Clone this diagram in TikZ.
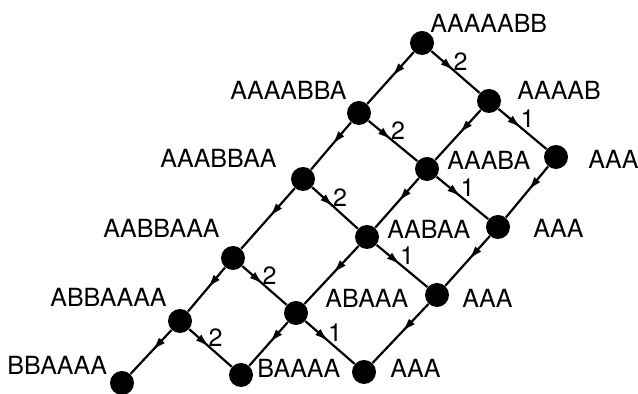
\documentclass[tikz,border=0pt]{standalone}
\usepackage{fontspec}
\setmainfont{TeX Gyre Heros}
\usetikzlibrary{arrows.meta,decorations.markings}
\begin{document}
\begin{tikzpicture}[x=0.5pt,y=-0.5pt,
  st/.style={circle,fill=black,minimum size=12pt,inner sep=0pt},
  lab/.style={anchor=base west,inner sep=0pt,font=\fontsize{12.5pt}{14pt}\selectfont},
  conn/.style={line width=1.1pt,postaction={decorate},
    decoration={markings,mark=at position 0.47 with {\arrow{Latex[length=7pt,width=4pt]}}}},
  num/.style={midway,xshift=2.5pt,yshift=5pt,inner sep=0pt,font=\fontsize{12.5pt}{14pt}\selectfont}]
\path[use as bounding box] (0,0) rectangle (638,394);
% left chain
\node[st] (L0) at (422,43) {};
\node[st] (L1) at (359,113) {};
\node[st] (L2) at (303,179) {};
\node[st] (L3) at (233,258) {};
\node[st] (L4) at (180,321) {};
\node[st] (L5) at (122,383) {};
% middle chain
\node[st] (M0) at (489,101) {};
\node[st] (M1) at (427,169) {};
\node[st] (M2) at (367,237) {};
\node[st] (M3) at (296,313) {};
\node[st] (M4) at (241,375) {};
% right chain
\node[st] (R0) at (556,157) {};
\node[st] (R1) at (498,227) {};
\node[st] (R2) at (437,295) {};
\node[st] (R3) at (364,372) {};
% labels
\node[lab] (tL0) at (430,33) {AAAAABB};
\node[lab] (tL1) at (230,100) {AAAABBA};
\node[lab] (tL2) at (160,168) {AAABBAA};
\node[lab] (tL3) at (103,238) {AABBAAA};
\node[lab] (tL4) at (50,307) {ABBAAAA};
\node[lab] (tL5) at (7,375) {BBAAAA};
\node[lab] (tM0) at (517,100) {AAAAB};
\node[lab] (tM1) at (447,170) {AAABA};
\node[lab] (tM2) at (387,239) {AABAA};
\node[lab] (tM3) at (325,308) {ABAAA};
\node[lab] (tM4) at (257,378) {BAAAA};
\node[lab] (tR0) at (588,169) {AAA};
\node[lab] (tR1) at (533,238) {AAA};
\node[lab] (tR2) at (462,308) {AAA};
\node[lab] (tR3) at (390,378) {AAA};
% connectors
\draw[conn] (L0) -- (L1);
\draw[conn] (L1) -- (L2);
\draw[conn] (L2) -- (L3);
\draw[conn] (L3) -- (L4);
\draw[conn] (L4) -- (L5);
\draw[conn] (M0) -- (M1);
\draw[conn] (M1) -- (M2);
\draw[conn] (M2) -- (M3);
\draw[conn] (M3) -- (M4);
\draw[conn] (R0) -- (R1);
\draw[conn] (R1) -- (R2);
\draw[conn] (R2) -- (R3);
\draw[conn] (L0) -- node[num] {2} (M0);
\draw[conn] (L1) -- node[num] {2} (M1);
\draw[conn] (L2) -- node[num] {2} (M2);
\draw[conn] (L3) -- node[num] {2} (M3);
\draw[conn] (L4) -- node[num] {2} (M4);
\draw[conn] (M0) -- node[num] {1} (R0);
\draw[conn] (M1) -- node[num] {1} (R1);
\draw[conn] (M2) -- node[num] {1} (R2);
\draw[conn] (M3) -- node[num] {1} (R3);
\end{tikzpicture}
\end{document}
